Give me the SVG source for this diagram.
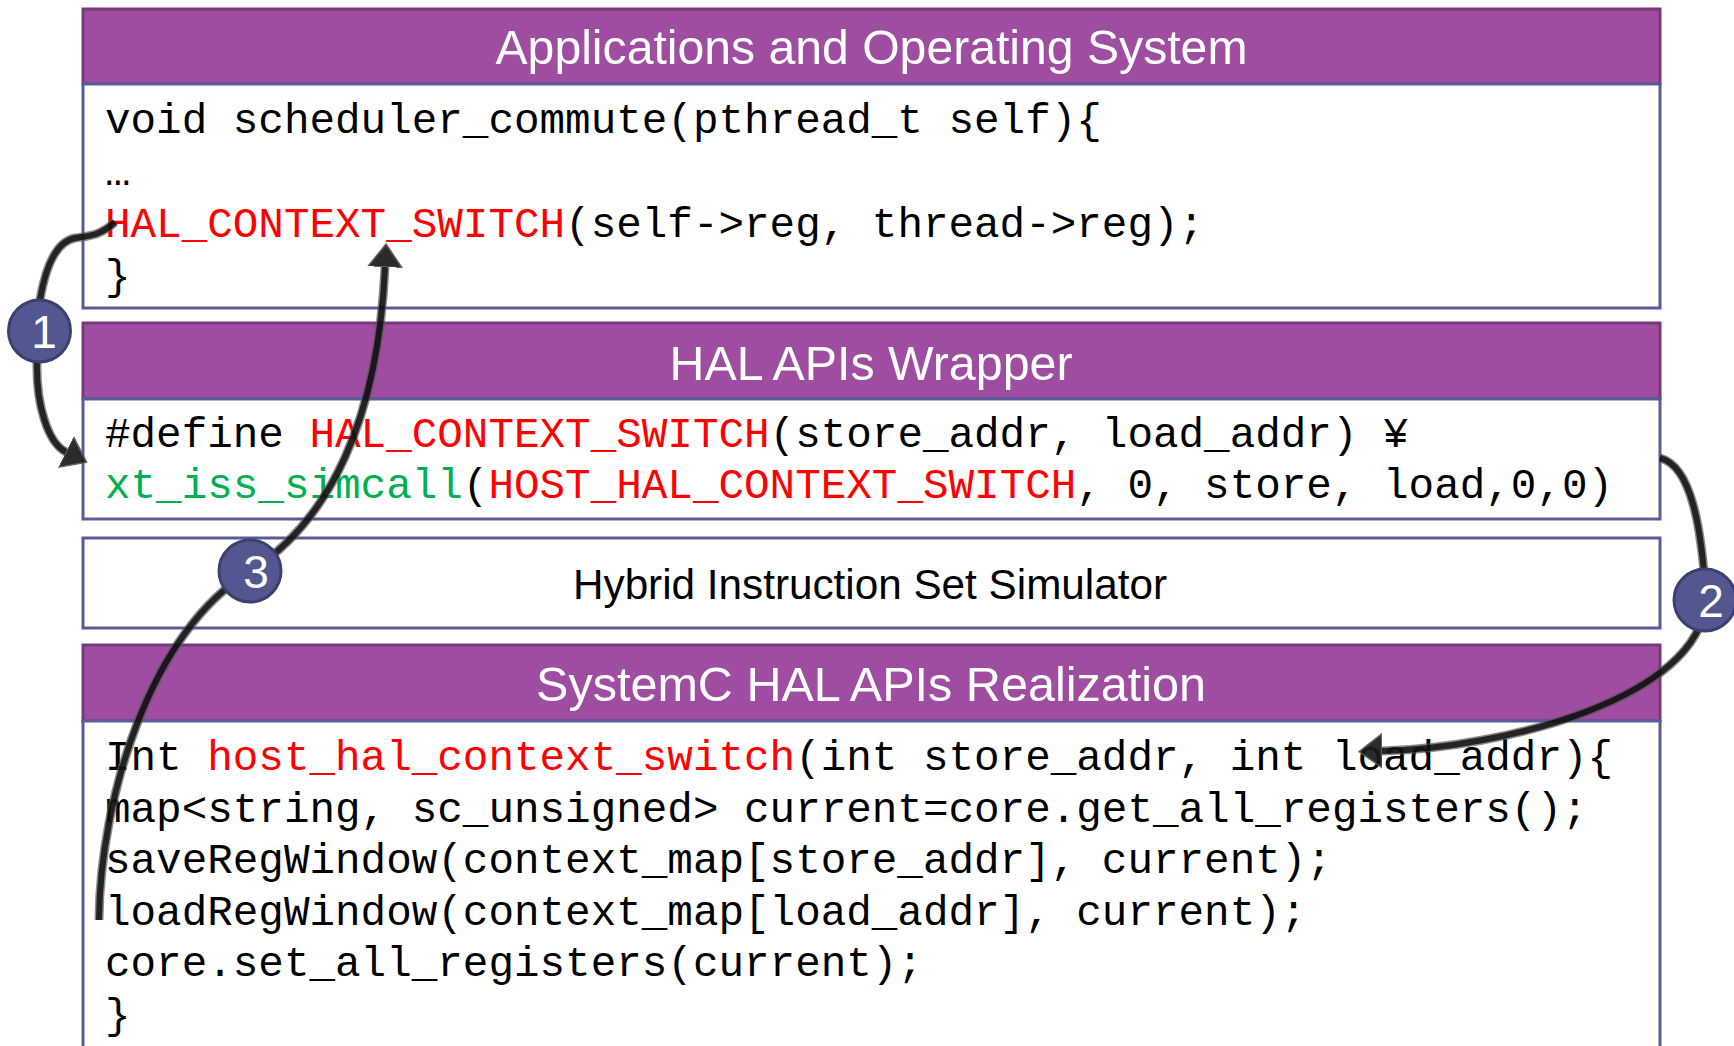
<svg xmlns="http://www.w3.org/2000/svg" width="1734" height="1046" viewBox="0 0 1734 1046">
<defs>
<style>
.hdr{fill:#9F4DA0;stroke:#763A7C;stroke-width:3}
.body{fill:#fff;stroke:#585C98;stroke-width:3}
.title{font-family:"Liberation Sans",Arial,sans-serif;font-size:48px;fill:#fff;text-anchor:middle}
.sub{font-family:"Liberation Sans",Arial,sans-serif;font-size:42.5px;fill:#000;text-anchor:middle}
.code{font-family:"Liberation Mono","Courier New",monospace;font-size:42.6px;fill:#000}
.r{fill:#FF0000}
.g{fill:#00B050}
.cu{fill:none;stroke:#555;stroke-width:9;stroke-opacity:0.75}
.cl{fill:none;stroke:#111;stroke-width:6}
.badge{fill:#525790;stroke:#3C4070;stroke-width:3}
.num{font-family:"Liberation Sans",Arial,sans-serif;font-size:46px;fill:#fff;text-anchor:middle}
</style>
<marker id="ah" markerUnits="userSpaceOnUse" viewBox="0 -18 24 36" markerWidth="24" markerHeight="36" refX="0" refY="0" orient="auto">
<path d="M0,-17 L23,0 L0,17 Z" fill="#1a1a1a" stroke="#555" stroke-width="1.5"/>
</marker>
</defs>
<rect width="1734" height="1046" fill="#fff"/>

<g id="app-os">
<rect class="hdr" x="83" y="9" width="1577" height="75"/>
<rect class="body" x="83" y="84" width="1577" height="224"/>
<text class="title" x="871.5" y="64" textLength="752" lengthAdjust="spacingAndGlyphs">Applications and Operating System</text>
<text class="code" x="105" y="133">void scheduler_commute(pthread_t self){</text>
<text class="code" x="105" y="185">…</text>
<text class="code" x="105" y="237"><tspan class="r">HAL_CONTEXT_SWITCH</tspan>(self-&gt;reg, thread-&gt;reg);</text>
<text class="code" x="105" y="289">}</text>
</g>

<g id="hal-wrapper">
<rect class="hdr" x="83" y="323" width="1577" height="76"/>
<rect class="body" x="83" y="399" width="1577" height="120"/>
<text class="title" x="871" y="380" textLength="403" lengthAdjust="spacingAndGlyphs">HAL APIs Wrapper</text>
<text class="code" x="105" y="447">#define <tspan class="r">HAL_CONTEXT_SWITCH</tspan>(store_addr, load_addr) ¥</text>
<text class="code" x="105" y="498"><tspan class="g">xt_iss_simcall</tspan>(<tspan class="r">HOST_HAL_CONTEXT_SWITCH</tspan>, 0, store, load,0,0)</text>
</g>

<g id="hybrid-iss">
<rect class="body" x="83" y="538" width="1577" height="90"/>
<text class="sub" x="870" y="599" textLength="594" lengthAdjust="spacingAndGlyphs">Hybrid Instruction Set Simulator</text>
</g>

<g id="systemc-hal">
<rect class="hdr" x="83" y="645" width="1577" height="76"/>
<rect class="body" x="83" y="721" width="1577" height="340"/>
<text class="title" x="871" y="701" textLength="670" lengthAdjust="spacingAndGlyphs">SystemC HAL APIs Realization</text>
<text class="code" x="105" y="770">Int <tspan class="r">host_hal_context_switch</tspan>(int store_addr, int load_addr){</text>
<text class="code" x="105" y="821.5">map&lt;string, sc_unsigned&gt; current=core.get_all_registers();</text>
<text class="code" x="105" y="873">saveRegWindow(context_map[store_addr], current);</text>
<text class="code" x="105" y="924.5">loadRegWindow(context_map[load_addr], current);</text>
<text class="code" x="105" y="976">core.set_all_registers(current);</text>
<text class="code" x="105" y="1027.5">}</text>
</g>

<g id="connectors" opacity="0.92">
<path class="cu" d="M115,222 C100,236 88,236 75,238 C55,242 45,270 40,300 L37,362 C36,405 48,443 66,452"/>
<path class="cl" d="M115,222 C100,236 88,236 75,238 C55,242 45,270 40,300 L37,362 C36,405 48,443 66,452" marker-end="url(#ah)"/>
<path class="cu" d="M1660,458 C1692,466 1702,530 1706,600 C1700,700 1500,748 1382,751"/>
<path class="cl" d="M1660,458 C1692,466 1702,530 1706,600 C1700,700 1500,748 1382,751" marker-end="url(#ah)"/>
<path class="cu" d="M99,920 C100,800 150,630 251,571 C330,520 378,420 385,267"/>
<path class="cl" d="M99,920 C100,800 150,630 251,571 C330,520 378,420 385,267" marker-end="url(#ah)"/>
</g>

<g id="badge-1">
<circle class="badge" cx="39.5" cy="331" r="31"/>
<text class="num" x="44" y="348">1</text>
</g>
<g id="badge-2">
<circle class="badge" cx="1705" cy="600" r="31"/>
<text class="num" x="1711" y="617">2</text>
</g>
<g id="badge-3">
<circle class="badge" cx="250" cy="571" r="31"/>
<text class="num" x="256" y="588">3</text>
</g>
</svg>
